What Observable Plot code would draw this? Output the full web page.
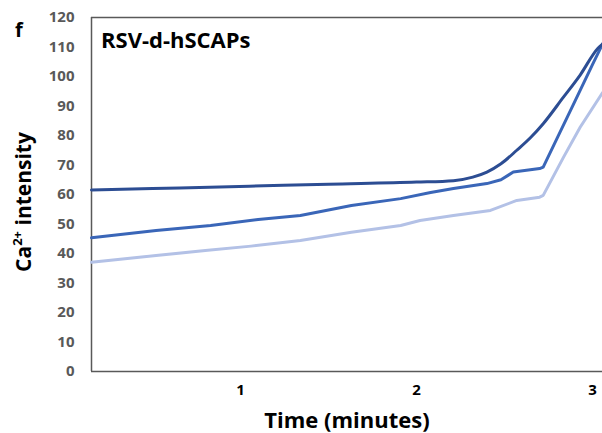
<!DOCTYPE html>
<html><head><meta charset="utf-8">
<script src="https://cdn.jsdelivr.net/npm/d3@7"></script>
<script src="https://cdn.jsdelivr.net/npm/@observablehq/plot@0.6"></script>
<style>
html,body{margin:0;padding:0;background:#fff;}
#chart{width:602px;height:433px;overflow:hidden;}
</style></head><body><div id="chart"></div>
<script>
// Time (minutes) and Ca2+ intensity per trace
const darkTime = [0.153, 0.5, 1.05, 1.5, 2.0, 2.21, 2.32, 2.40, 2.48, 2.57, 2.65, 2.72, 2.835, 2.93, 3.03, 3.057];
const darkVal  = [61.5, 62.0, 62.8, 63.5, 64.2, 64.7, 65.9, 67.6, 70.4, 75.0, 79.4, 84.0, 93.0, 100.5, 109.5, 111.0];
const midTime  = [0.153, 0.52, 0.83, 1.1, 1.34, 1.63, 1.91, 2.08, 2.21, 2.40, 2.48, 2.55, 2.70, 2.72, 2.8, 2.9, 3.0, 3.057];
const midVal   = [45.3, 47.8, 49.5, 51.5, 52.9, 56.3, 58.6, 60.7, 62.0, 63.7, 65.0, 67.6, 68.8, 69.3, 79.2, 91.6, 104.0, 111.0];
const lightTime = [0.153, 0.52, 0.8, 1.06, 1.34, 1.63, 1.91, 2.02, 2.21, 2.42, 2.57, 2.70, 2.72, 2.835, 2.93, 3.057];
const lightVal  = [37.0, 39.3, 41.0, 42.5, 44.4, 47.2, 49.5, 51.2, 52.9, 54.6, 58.0, 59.1, 59.7, 72.6, 82.8, 94.5];
const seriesNames = ["dark", "mid", "light"];
const seriesColors = ["#2c4d93", "#3a66b8", "#b3c1e6"];
const xTicks = [1, 2, 3];
const yTicks = [0, 10, 20, 30, 40, 50, 60, 70, 80, 90, 100, 110, 120];
const xDomain = [0.153, 3.057];
const yDomain = [0, 120];

const rows = [];
[[darkTime, darkVal], [midTime, midVal], [lightTime, lightVal]].forEach(([t, v], i) => {
  t.forEach((x, j) => rows.push({series: seriesNames[i], t: x, v: v[j]}));
});

const FONT = "'Open Sans', sans-serif";
const svg = Plot.plot({
  width: 602, height: 433,
  marginLeft: 91, marginRight: 0, marginTop: 17, marginBottom: 62,
  style: {fontFamily: FONT, background: "#fff"},
  x: {domain: xDomain},
  y: {domain: yDomain},
  color: {domain: seriesNames, range: seriesColors},
  marks: [
    Plot.ruleY(yDomain, {stroke: "#595959", strokeWidth: 1.5}),
    Plot.ruleX([xDomain[0]], {stroke: "#595959", strokeWidth: 1.5}),
    Plot.axisY({ticks: yTicks, tickSize: 0, tickPadding: 17, fontSize: 15, fontWeight: "bold", fill: "#595959", label: null}),
    Plot.axisX({ticks: xTicks, tickFormat: d => String(d), tickSize: 0, tickPadding: 13, fontSize: 15, fontWeight: "bold", fill: "#000", label: null}),
    Plot.line(rows.filter(d => d.series === "light"), {x: "t", y: "v", stroke: "series", strokeWidth: 3}),
    Plot.line(rows.filter(d => d.series === "mid"), {x: "t", y: "v", stroke: "series", strokeWidth: 3}),
    Plot.line(rows.filter(d => d.series === "dark"), {x: "t", y: "v", stroke: "series", strokeWidth: 3, curve: "monotone-x"})
  ]
});

const s = d3.select(svg);
s.append("text").attr("x", 15).attr("y", 37).attr("text-anchor", "start").attr("font-size", 20).attr("font-weight", "bold")
  .attr("fill", "#000").attr("font-family", FONT).text("f");
s.append("text").attr("x", 101).attr("y", 48).attr("text-anchor", "start").attr("font-size", 22).attr("font-weight", "bold")
  .attr("fill", "#000").attr("font-family", FONT).text("RSV-d-hSCAPs");
s.append("text").attr("x", 347).attr("y", 428).attr("text-anchor", "middle").attr("font-size", 22)
  .attr("font-weight", "bold").attr("fill", "#000").attr("font-family", FONT).text("Time (minutes)");
const yl = s.append("text").attr("transform", "translate(31,202) rotate(-90)").attr("text-anchor", "middle")
  .attr("font-size", 21).attr("font-weight", "bold").attr("fill", "#000").attr("font-family", FONT);
yl.append("tspan").text("Ca");
yl.append("tspan").attr("dy", -9).attr("font-size", 13).text("2+");
yl.append("tspan").attr("dy", 9).text(" intensity");

document.getElementById("chart").appendChild(svg);
</script>
</body></html>
